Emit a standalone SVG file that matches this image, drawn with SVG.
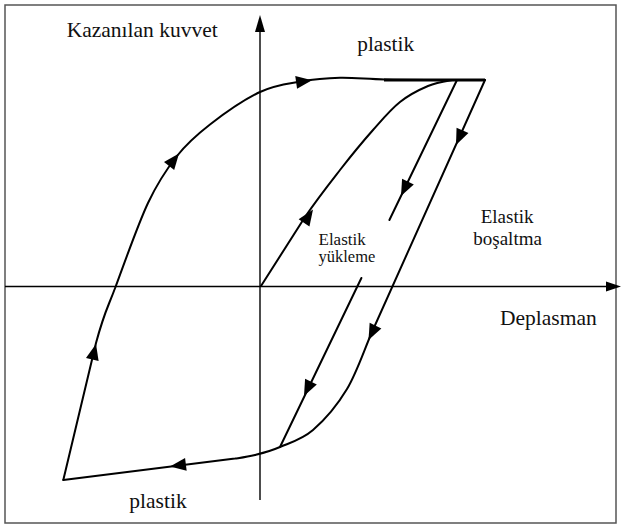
<svg xmlns="http://www.w3.org/2000/svg" xmlns:xlink="http://www.w3.org/1999/xlink" width="621" height="527" viewBox="0 0 621 527">
<style>
.t{font-family:"Liberation Serif","Times New Roman",serif;fill:#111;}
.c{fill:none;stroke:#000;stroke-width:2;stroke-linejoin:round;stroke-linecap:round;}
.ax{fill:none;stroke:#000;stroke-width:1.4;}
.ah{fill:#000;}
</style>
<defs>
<path id="ah" d="M0,0 L-16,-6.5 L-16,6.5 Z"/>
</defs>
<rect x="5" y="5" width="611" height="518" fill="#fff" stroke="#555" stroke-width="1.5"/>
<g id="axes">
<line class="ax" x1="260" y1="28" x2="260" y2="500"/>
<polygon class="ah" points="260,15 255,32 265,32"/>
<line class="ax" x1="5" y1="286.5" x2="610" y2="286.5"/>
<polygon class="ah" points="621,286.5 606,281.5 606,291.5"/>
</g>
<g id="connectors">
<path class="c" d="M63.3,480 L96,343 C104.7,310.8 106.8,310.3 115.5,287 C124.2,263.7 137.75,224.8 148,203 C158.25,181.2 166.7,169.1 177,156 C187.3,142.9 196.2,135.2 210,124.5 C223.8,113.8 244.8,99.2 260,92 C275.2,84.8 287.7,83.9 301,81.5 C314.3,79.1 326,78.1 340,77.8 C354,77.5 366.7,79.1 385,79.5 C403.3,79.9 433.3,79.9 450,80 L485,80"/>
<path class="c" d="M384,80 L485,80" style="stroke-width:3.2;stroke-linecap:butt"/>
<path class="c" d="M485,80 L372,332 C364.5,349 356.8,372.7 347,389 C337.2,405.3 324.2,420.3 313,430 C301.8,439.7 289.7,442.8 280,447 C270.3,451.2 262.5,453.1 255,455 C247.5,456.9 241.7,457.6 235,458.6 L63.3,480"/>
<path class="c" d="M261,286 L305,217 C318.2,197.7 328.7,184.5 340,170 C351.3,155.5 363,141.3 373,130 C383,118.7 390.8,109.3 400,102 C409.2,94.7 419.3,89.7 428,86 C436.7,82.3 445,81.2 452,80"/>
<path class="c" d="M457,80 L389.4,220"/>
<path class="c" d="M361.4,278 L280,447"/>
<use xlink:href="#ah" transform="translate(96,344) rotate(-76.6)"/>
<use xlink:href="#ah" transform="translate(179,153.5) rotate(-51.7)"/>
<use xlink:href="#ah" transform="translate(312,80.2) rotate(-8)"/>
<use xlink:href="#ah" transform="translate(456,145) rotate(114)"/>
<use xlink:href="#ah" transform="translate(368.5,340) rotate(116)"/>
<use xlink:href="#ah" transform="translate(313,209.5) rotate(-56)"/>
<use xlink:href="#ah" transform="translate(401,196) rotate(115.8)"/>
<use xlink:href="#ah" transform="translate(304,396) rotate(115.8)"/>
<use xlink:href="#ah" transform="translate(170,466.4) rotate(172.8)"/>
</g>
<g id="labels">
<text class="t" x="66.7" y="36.5" font-size="21.5">Kazanılan kuvvet</text>
<text class="t" x="357.3" y="50.7" font-size="21.3">plastik</text>
<text class="t" x="318.5" y="245" font-size="17">Elastik</text>
<text class="t" x="318.5" y="262.3" font-size="16.5">yükleme</text>
<text class="t" x="480.7" y="222.7" font-size="19">Elastik</text>
<text class="t" x="473.3" y="245" font-size="19">boşaltma</text>
<text class="t" x="500" y="325" font-size="21.5">Deplasman</text>
<text class="t" x="129.3" y="508.3" font-size="21.5">plastik</text>
</g>
</svg>
